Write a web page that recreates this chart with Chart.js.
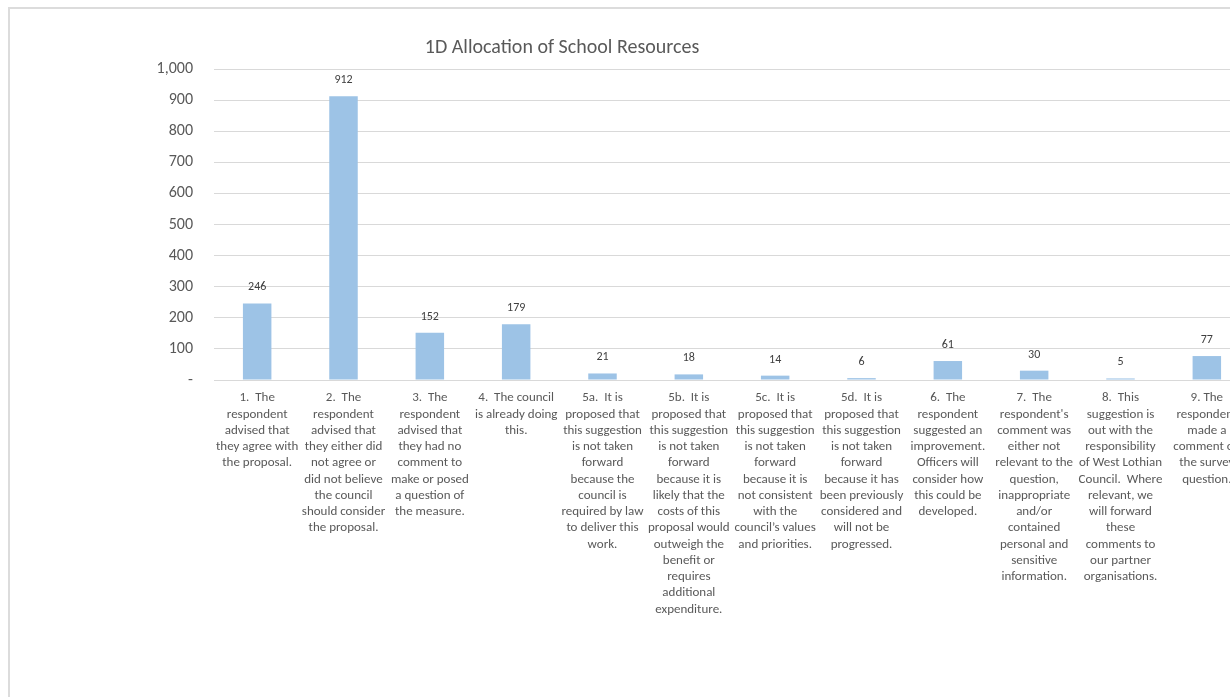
<!DOCTYPE html>
<html>
<head>
<meta charset="utf-8">
<title>1D Allocation of School Resources</title>
<script src="https://cdn.jsdelivr.net/npm/chart.js@4.4.1/dist/chart.umd.min.js"></script>
<style>
    html, body {
        margin: 0;
        padding: 0;
        background: #ffffff;
        overflow: hidden;
        width: 1230px;
        height: 697px;
    }
    #frame {
        position: absolute;
        left: 8px;
        top: 7px;
        width: 1300px;
        height: 760px;
        border: 2px solid #dcdcdc;
        box-sizing: border-box;
    }
    #wrap {
        position: absolute;
        left: 0;
        top: 0;
        width: 1262px;
        height: 697px;
    }
</style>
</head>
<body>
<div id="frame"></div>
<div id="wrap"><canvas id="resourceChart" width="1262" height="697"></canvas></div>
<script>
// Response categories, one wrapped label per bar
const categories = [
    ['1.  The', 'respondent', 'advised that', 'they agree with', 'the proposal.'],
    ['2.  The', 'respondent', 'advised that', 'they either did', 'not agree or', 'did not believe', 'the council', 'should consider', 'the proposal.'],
    ['3.  The', 'respondent', 'advised that', 'they had no', 'comment to', 'make or posed', 'a question of', 'the measure.'],
    ['4.  The council', 'is already doing', 'this.'],
    ['5a.  It is', 'proposed that', 'this suggestion', 'is not taken', 'forward', 'because the', 'council is', 'required by law', 'to deliver this', 'work.'],
    ['5b.  It is', 'proposed that', 'this suggestion', 'is not taken', 'forward', 'because it is', 'likely that the', 'costs of this', 'proposal would', 'outweigh the', 'benefit or', 'requires', 'additional', 'expenditure.'],
    ['5c.  It is', 'proposed that', 'this suggestion', 'is not taken', 'forward', 'because it is', 'not consistent', 'with the', 'council\u2019s values', 'and priorities.'],
    ['5d.  It is', 'proposed that', 'this suggestion', 'is not taken', 'forward', 'because it has', 'been previously', 'considered and', 'will not be', 'progressed.'],
    ['6.  The', 'respondent', 'suggested an', 'improvement.', 'Officers will', 'consider how', 'this could be', 'developed.'],
    ['7.  The', 'respondent\'s', 'comment was', 'either not', 'relevant to the', 'question,', 'inappropriate', 'and/or', 'contained', 'personal and', 'sensitive', 'information.'],
    ['8.  This', 'suggestion is', 'out with the', 'responsibility', 'of West Lothian', 'Council.  Where', 'relevant, we', 'will forward', 'these', 'comments to', 'our partner', 'organisations.'],
    ['9. The', 'respondent', 'made a', 'comment on', 'the survey', 'question.']
];

// Number of responses in each category
const responses = [246, 912, 152, 179, 21, 18, 14, 6, 61, 30, 5, 77];

// Value axis ticks
const yTickValues = [0, 100, 200, 300, 400, 500, 600, 700, 800, 900, 1000];
const yTickLabels = ['-', '100', '200', '300', '400', '500', '600', '700', '800', '900', '1,000'];

const chartTitle = '1D Allocation of School Resources';

const FONT = "Carlito, Calibri, Lato, 'Open Sans', sans-serif";

// Value labels above each bar
const barValueLabels = {
    id: 'barValueLabels',
    afterDatasetsDraw(chart) {
        const ctx = chart.ctx;
        const meta = chart.getDatasetMeta(0);
        ctx.save();
        ctx.font = '12px ' + FONT;
        ctx.fillStyle = '#404040';
        ctx.textAlign = 'center';
        ctx.textBaseline = 'middle';
        meta.data.forEach(function(bar, i) {
            ctx.fillText(String(responses[i]), bar.x, bar.y - 16);
        });
        ctx.restore();
    }
};

// Chart title, placed over the left part of the chart
const titleText = {
    id: 'titleText',
    afterDraw(chart) {
        const ctx = chart.ctx;
        ctx.save();
        ctx.font = '20px ' + FONT;
        ctx.fillStyle = '#595959';
        ctx.textAlign = 'center';
        ctx.textBaseline = 'middle';
        ctx.fillText(chartTitle, 562, 48);
        ctx.restore();
    }
};

function createChart() {
    const ctx = document.getElementById('resourceChart').getContext('2d');

    new Chart(ctx, {
        type: 'bar',
        data: {
            labels: categories,
            datasets: [{
                label: 'Responses',
                data: responses,
                backgroundColor: '#9dc3e6',
                borderWidth: 0,
                categoryPercentage: 1,
                barPercentage: 0.33
            }]
        },
        options: {
            responsive: false,
            animation: false,
            layout: {
                padding: { top: 69, right: 12, bottom: 0, left: 0 }
            },
            scales: {
                y: {
                    min: 0,
                    max: 1000,
                    afterFit: function(scale) { scale.width = 214; },
                    afterBuildTicks: function(scale) {
                        scale.ticks = yTickValues.map(function(v) { return { value: v }; });
                    },
                    grid: {
                        color: '#d9d9d9',
                        drawTicks: false
                    },
                    border: { display: false },
                    ticks: {
                        padding: 21,
                        color: '#595959',
                        font: { size: 16, family: FONT },
                        callback: function(value) {
                            const i = yTickValues.indexOf(value);
                            return i >= 0 ? yTickLabels[i] : '';
                        }
                    }
                },
                x: {
                    afterFit: function(scale) { scale.height = 697 - 69 - 311; },
                    grid: { display: false },
                    border: { color: '#d9d9d9' },
                    ticks: {
                        autoSkip: false,
                        maxRotation: 0,
                        minRotation: 0,
                        padding: 2,
                        color: '#595959',
                        font: { size: 13, family: FONT, lineHeight: 1.25 }
                    }
                }
            },
            plugins: {
                legend: { display: false },
                title: { display: false },
                tooltip: { enabled: false }
            }
        },
        plugins: [barValueLabels, titleText]
    });
}

document.addEventListener('DOMContentLoaded', function() {
    createChart();
});
</script>
</body>
</html>
